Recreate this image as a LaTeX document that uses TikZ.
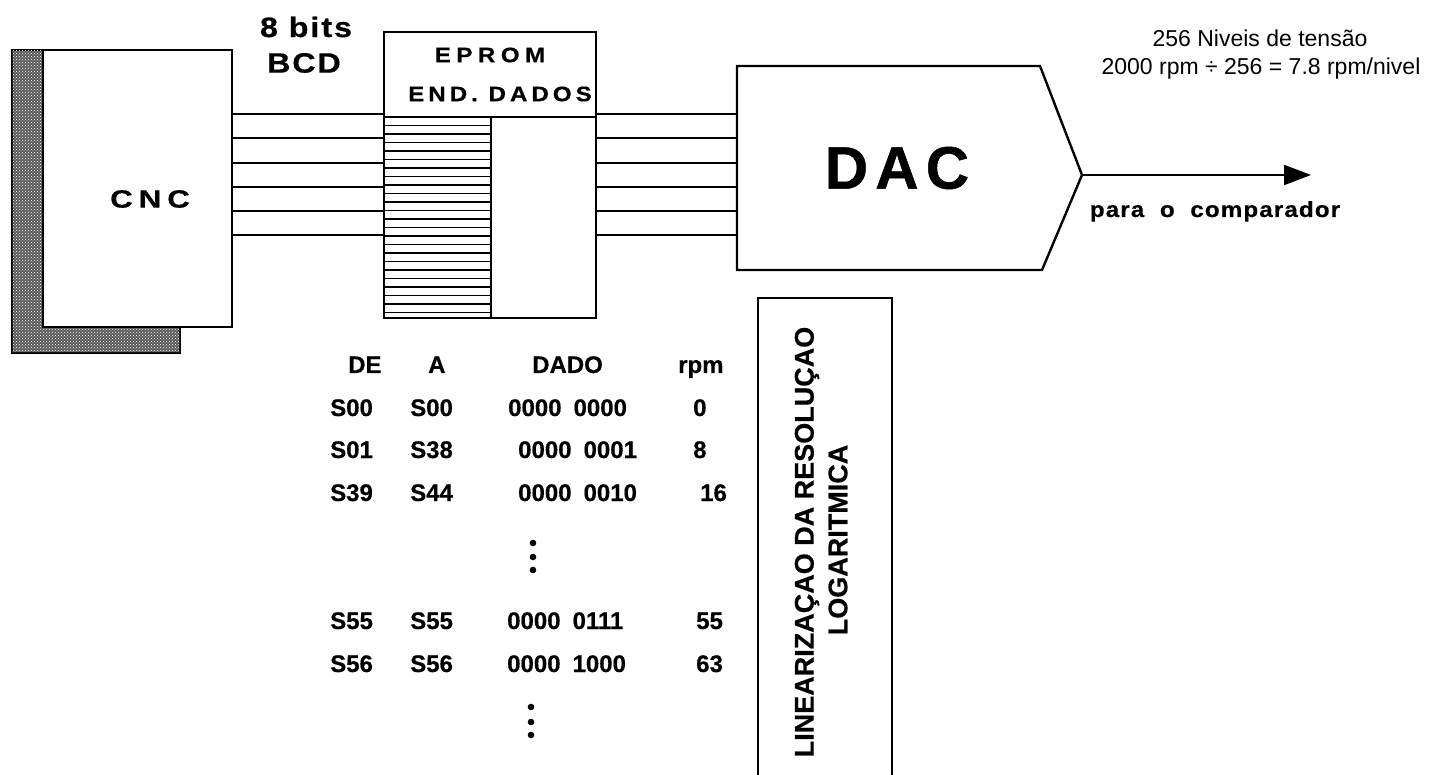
\documentclass[tikz,border=0pt]{standalone}
\usepackage{fontspec}
\setmainfont{Liberation Sans}
\usetikzlibrary{arrows.meta,patterns}
\tikzset{
  blk/.style={draw,line width=2.4pt,fill=white,inner sep=0pt},
  edge/.style={line width=2.4pt},
  bus/.style={line width=1.9pt},
  hatch/.style={line width=1.3pt},
  txt/.style={inner sep=0pt},
  cnct/.style={txt,font=\bfseries\fontsize{25}{28}\selectfont\addfontfeature{FakeStretch=1.25,FakeBold=0.6,LetterSpace=24}},
  bcdt/.style={txt,font=\bfseries\fontsize{28}{32}\selectfont\addfontfeature{FakeStretch=1.15,FakeBold=0.6,LetterSpace=7}},
  romt/.style={txt,font=\bfseries\fontsize{21}{24}\selectfont\addfontfeature{FakeStretch=1.15,FakeBold=0.6,LetterSpace=26}},
  adrt/.style={txt,font=\bfseries\fontsize{21}{24}\selectfont\addfontfeature{FakeStretch=1.15,FakeBold=0.6,LetterSpace=19}},
  dact/.style={txt,font=\bfseries\fontsize{60}{66}\selectfont\addfontfeature{FakeBold=0.8,LetterSpace=12}},
  tabt/.style={txt,anchor=base west,font=\bfseries\fontsize{24}{26}\selectfont\addfontfeature{FakeBold=0.5}},
  vert/.style={txt,rotate=90,font=\bfseries\fontsize{27}{30}\selectfont\addfontfeature{FakeBold=0.5}},
  outt/.style={txt,anchor=base,font=\bfseries\fontsize{22}{24}\selectfont\addfontfeature{FakeStretch=1.1,FakeBold=0.5,LetterSpace=5}},
  note/.style={txt,anchor=base,font=\fontsize{23}{26}\selectfont},
  dot/.style={circle,fill,inner sep=0pt,minimum size=6.6pt},
}
\begin{document}
\begin{tikzpicture}[x=1pt,y=-1pt]
  \useasboundingbox (0,0) rectangle (1432,775);

  % CNC with its shaded back
  \filldraw[line width=1.2pt,fill=black!65] (12,50) rectangle (180,353);
  \fill[pattern=crosshatch dots,pattern color=white] (12,50) rectangle (180,353);
  \node[blk,minimum width=189,minimum height=277] (cnc) at (137.5,188.5) {};
  \node[cnct] (cnclbl) at (150,199) {CNC};

  \node[bcdt] (bits) at (306,27) {8 bits};
  \node[bcdt] (bcd) at (304,63) {BCD};

  % EPROM
  \node[blk,minimum width=212,minimum height=286] (eprom) at (490,175) {};
  \coordinate (div) at (491,117);
  \draw[edge] (eprom.west |- div) -- (eprom.east |- div);
  \draw[edge] (div) -- (div |- eprom.south);
  \foreach \k in {1,...,23}
    \draw[hatch] (eprom.west |- 0,{117+8.5*\k}) -- (div |- 0,{117+8.5*\k});
  \node[romt] (romlbl) at (490,55) {EPROM};
  \node[adrt] (adrlbl) at (500,94) {END. DADOS};

  % DAC
  \coordinate (dacnw) at (737,66);
  \coordinate (dacne) at (1040,66);
  \coordinate (dactip) at (1082,175);
  \coordinate (dacse) at (1042,270);
  \coordinate (dacsw) at (737,270);
  \draw[edge,line join=miter] (dacnw) -- (dacne) -- (dactip) -- (dacse) -- (dacsw) -- cycle;
  \node[dact] (dac) at (897,168) {DAC};

  % buses
  \foreach \y in {114,138,163,187,211,235} {
    \draw[bus] (cnc.east |- 0,\y) -- (eprom.west |- 0,\y);
    \draw[bus] (eprom.east |- 0,\y) -- (dacnw |- 0,\y);
  }

  % output
  \coordinate (out) at (1311,175);
  \draw[line width=2pt,-{Triangle[length=27pt,width=20pt]}] (dactip) -- (out);
  \node[outt] (cmp) at (1215,217) {para\ \ o\ \ comparador};
  \node[note] (niv) at (1260,47) {256 Niveis de tensão};
  \node[note] (res) at (1261,75) {2000 rpm ÷ 256 = 7.8 rpm/nivel};

  % table
  \node[tabt] (hde) at (348,373) {DE};
  \node[tabt] (ha) at (428,373) {A};
  \node[tabt] (hdado) at (532,373) {DADO};
  \node[tabt] (hrpm) at (678,373) {rpm};
  \foreach \y/\de/\a/\dx/\dd/\rx/\r [count=\i] in
     {416/S00/S00/508/0000\hspace{.5em}0000/693/0,
      458/S01/S38/518/0000\hspace{.5em}0001/693/8,
      501/S39/S44/518/0000\hspace{.5em}0010/700/16,
      629/S55/S55/507/0000\hspace{.5em}0111/696/55,
      672/S56/S56/507/0000\hspace{.5em}1000/696/63} {
    \node[tabt] (de\i) at (330,\y) {\de};
    \node[tabt] (a\i) at (410,\y) {\a};
    \node[tabt] (dd\i) at (\dx,\y) {\dd};
    \node[tabt] (r\i) at (\rx,\y) {\r};
  }
  \foreach \y [count=\i] in {543,557,570}
    \node[dot] (pa\i) at (533,\y) {};
  \foreach \y [count=\i] in {707,722,735}
    \node[dot] (pb\i) at (531,\y) {};

  % linearisation note
  \node[blk,minimum width=134,minimum height=490] (lin) at (825,543) {};
  \node[vert] (lin1) at (807,542) {LINEARIZAÇAO DA RESOLUÇAO};
  \node[vert] (lin2) at (838,540) {LOGARITMICA};
\end{tikzpicture}
\end{document}
